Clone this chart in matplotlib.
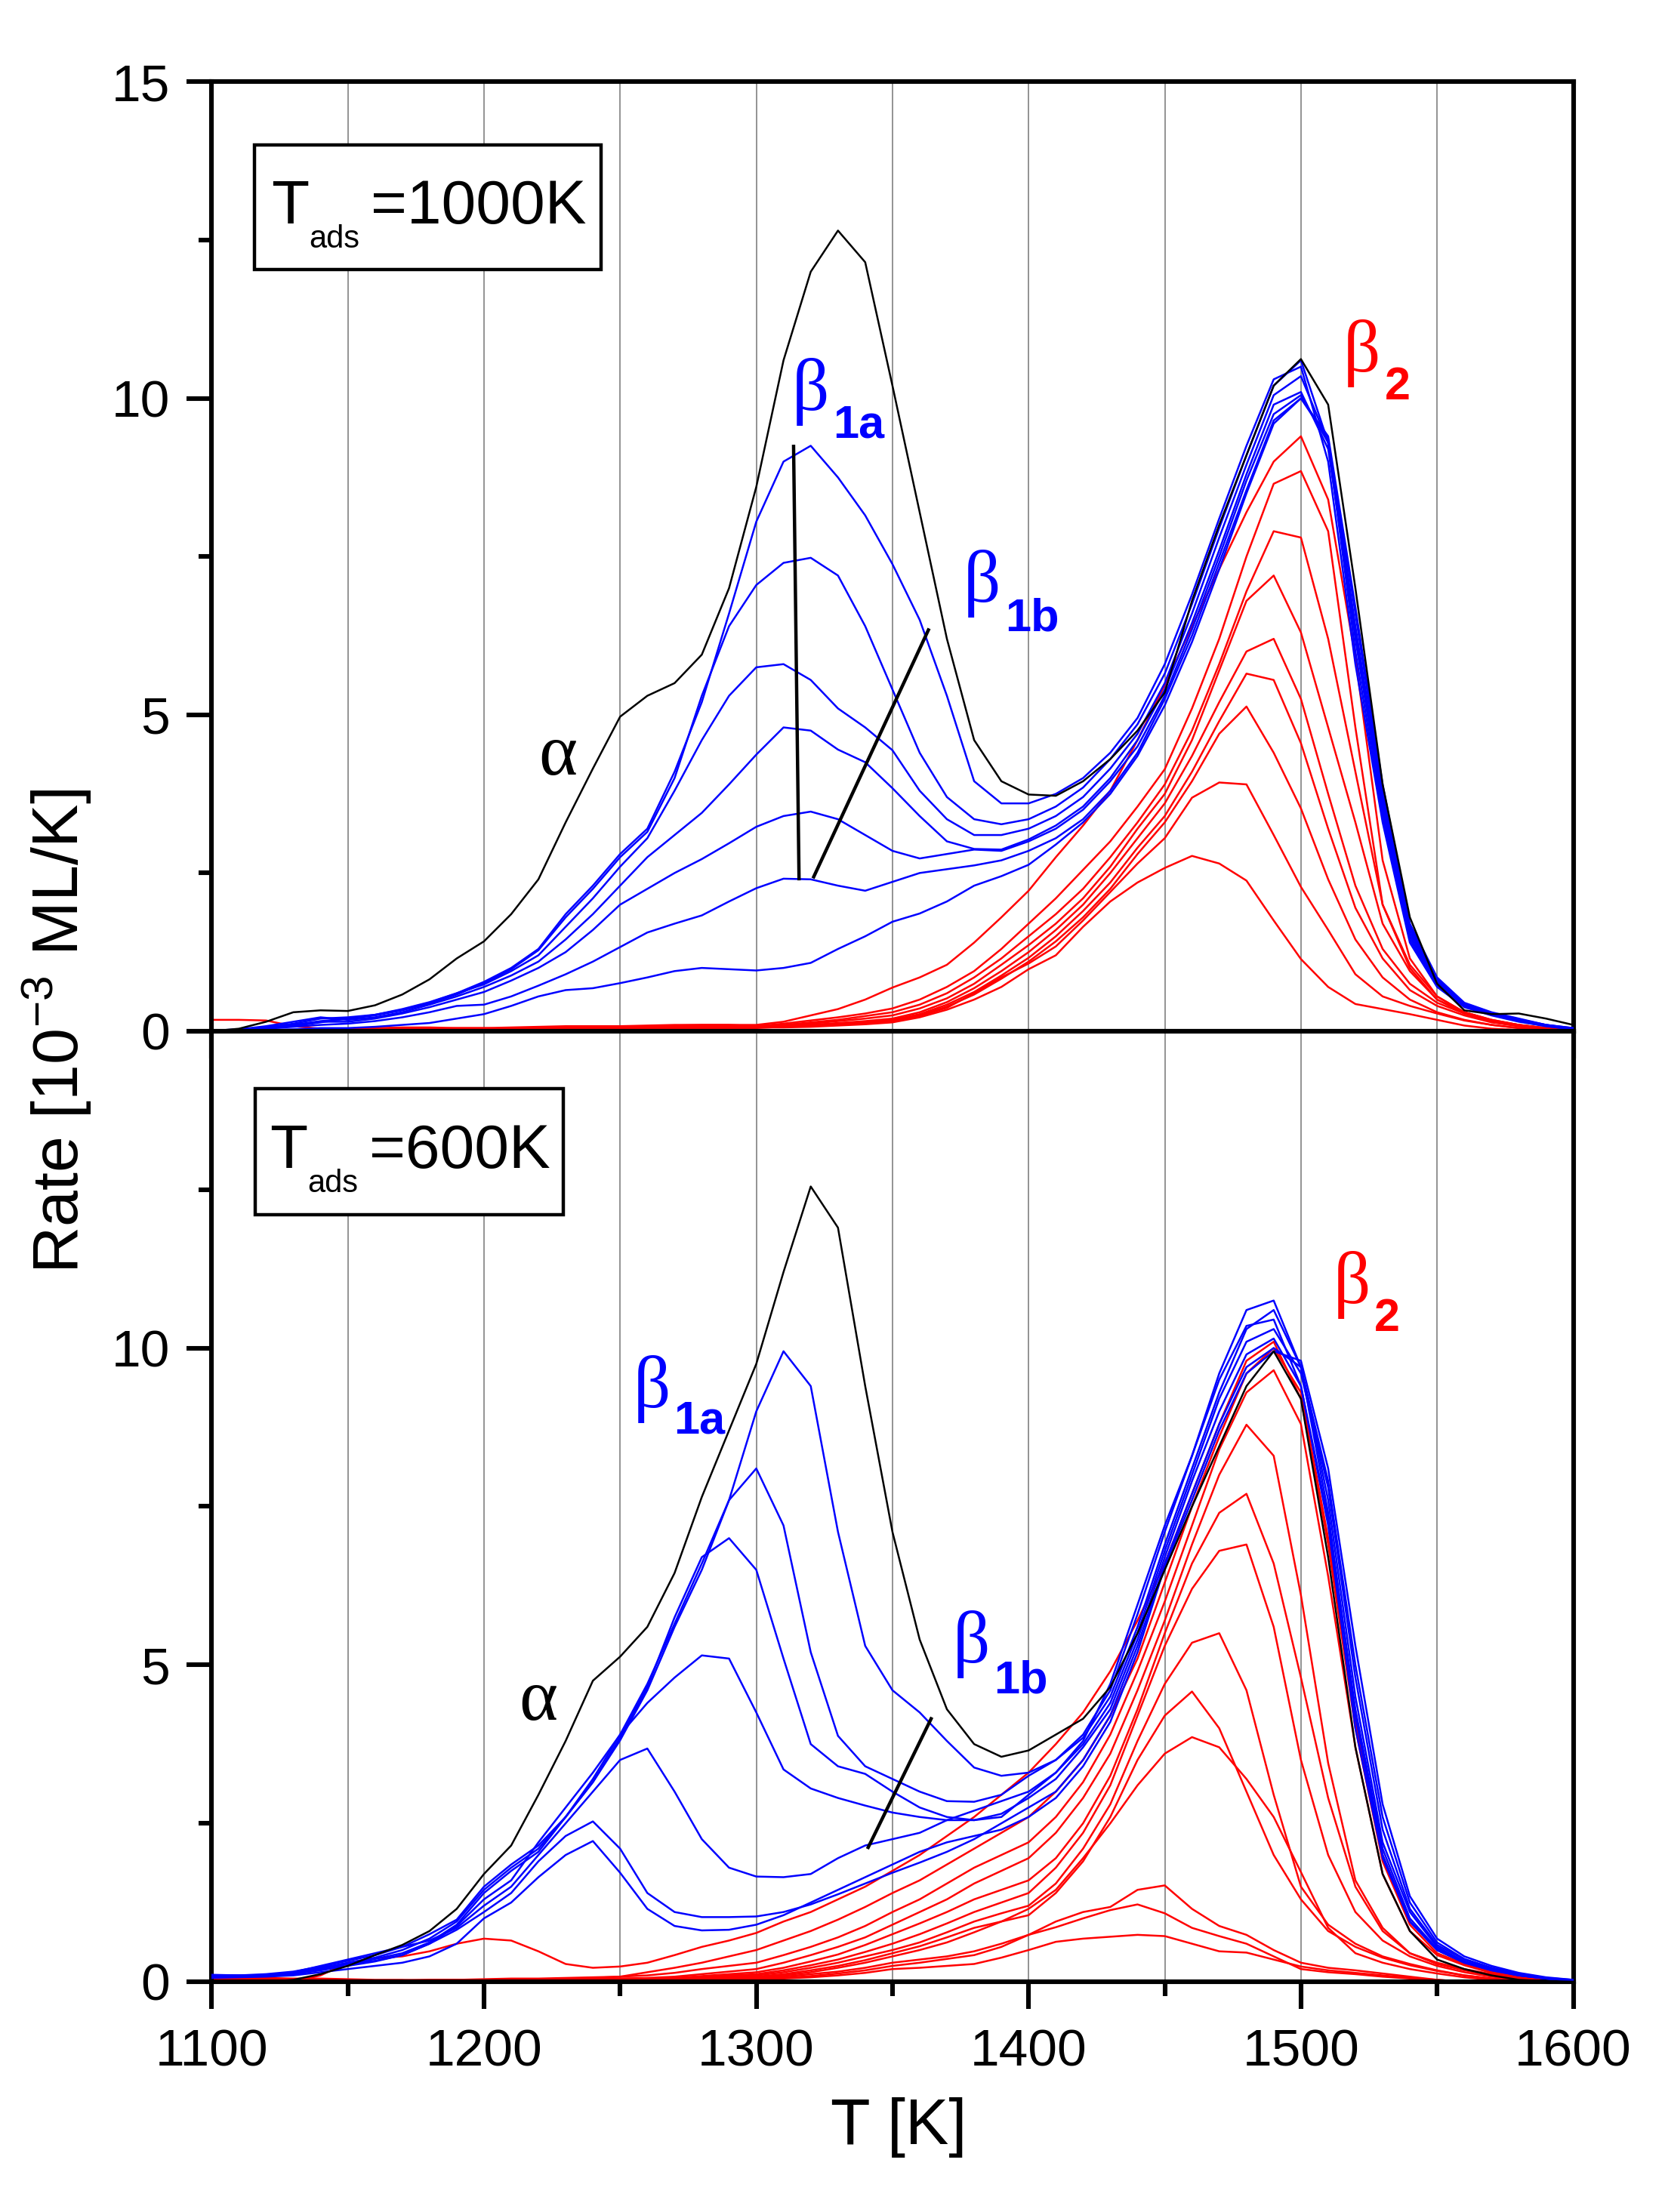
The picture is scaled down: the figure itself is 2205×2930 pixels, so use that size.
import numpy as np
import matplotlib
matplotlib.use("Agg")
from matplotlib import pyplot as plt
from matplotlib.patches import Rectangle

plt.rcParams['font.family'] = ['Liberation Sans', 'DejaVu Sans']

# temperature grid of the read-off values [K]
temps = list(range(1100, 1601, 10))

# ---- upper panel, T_ads = 1000 K ----
top_black = [0, 0.04, 0.15, 0.3, 0.33, 0.32, 0.41, 0.58, 0.82, 1.15,
             1.42, 1.85, 2.4, 3.3, 4.15, 4.97, 5.3, 5.5, 5.95, 7.0,
             8.6, 10.6, 12.0, 12.65, 12.15, 10.2, 8.2, 6.2, 4.6, 3.95,
             3.74, 3.72, 3.95, 4.3, 4.75, 5.35, 6.8, 8.0, 9.1, 10.2,
             10.62, 9.9, 7.0, 3.9, 1.8, 0.75, 0.33, 0.27, 0.28, 0.2, 0.1]

top_blue = [
    [0, 0.01, 0.04, 0.08, 0.14, 0.2, 0.26, 0.35, 0.46, 0.6,
     0.78, 1.0, 1.3, 1.85, 2.3, 2.8, 3.2, 4.1, 5.2, 6.6,
     8.05, 9.0, 9.25, 8.75, 8.15, 7.38, 6.5, 5.3, 3.95, 3.6,
     3.6, 3.75, 4.0, 4.4, 4.95, 5.8, 6.9, 8.1, 9.25, 10.3,
     10.5, 9.0, 5.8, 3.3, 1.4, 0.7, 0.38, 0.25, 0.15, 0.08, 0.03],
    [0, 0.02, 0.05, 0.1, 0.16, 0.2, 0.25, 0.33, 0.44, 0.58,
     0.76, 0.98, 1.28, 1.8, 2.25, 2.75, 3.15, 4.0, 5.3, 6.4,
     7.05, 7.4, 7.48, 7.2, 6.4, 5.4, 4.4, 3.7, 3.35, 3.27,
     3.35, 3.55, 3.85, 4.3, 4.85, 5.65, 6.75, 7.95, 9.1, 10.2,
     10.6, 9.3, 6.0, 3.4, 1.45, 0.72, 0.4, 0.26, 0.16, 0.08, 0.03],
    [0, 0.02, 0.06, 0.12, 0.2, 0.22, 0.26, 0.34, 0.45, 0.6,
     0.74, 0.95, 1.2, 1.65, 2.1, 2.6, 3.05, 3.8, 4.6, 5.3,
     5.75, 5.8, 5.55, 5.1, 4.8, 4.44, 3.8, 3.35, 3.1, 3.1,
     3.2, 3.4, 3.7, 4.15, 4.7, 5.5, 6.6, 7.8, 8.95, 10.05,
     10.35, 9.3, 6.2, 3.5, 1.5, 0.75, 0.41, 0.27, 0.17, 0.09, 0.04],
    [0, 0.03, 0.08, 0.15, 0.22, 0.18, 0.22, 0.3, 0.42, 0.55,
     0.7, 0.88, 1.1, 1.45, 1.85, 2.3, 2.75, 3.1, 3.45, 3.9,
     4.37, 4.8, 4.75, 4.45, 4.25, 3.84, 3.4, 3.0, 2.88, 2.87,
     3.03, 3.25, 3.55, 4.0, 4.6, 5.4, 6.45, 7.6, 8.8, 9.9,
     10.1, 9.2, 6.3, 3.6, 1.55, 0.78, 0.42, 0.28, 0.17, 0.09, 0.04],
    [0.01, 0.03, 0.06, 0.1, 0.15, 0.15, 0.2, 0.28, 0.38, 0.5,
     0.62, 0.8, 1.0, 1.25, 1.6, 2.0, 2.25, 2.5, 2.72, 2.97,
     3.23, 3.4, 3.47, 3.35, 3.1, 2.85, 2.73, 2.8, 2.87, 2.85,
     3.0, 3.2, 3.5, 3.95, 4.5, 5.3, 6.35, 7.5, 8.7, 9.75,
     10.05, 9.3, 6.4, 3.7, 1.6, 0.8, 0.43, 0.28, 0.18, 0.1, 0.04],
    [0, 0.02, 0.04, 0.07, 0.1, 0.12, 0.16, 0.22, 0.3, 0.4,
     0.42, 0.55, 0.72, 0.9, 1.1, 1.33, 1.56, 1.7, 1.83, 2.05,
     2.26, 2.41, 2.4, 2.3, 2.22, 2.36, 2.5, 2.56, 2.62, 2.7,
     2.85, 3.05, 3.35, 3.8, 4.4, 5.25, 6.25, 7.4, 8.55, 9.65,
     10.0, 9.35, 6.6, 3.8, 1.65, 0.82, 0.44, 0.29, 0.19, 0.1, 0.05],
    [0, 0.01, 0.02, 0.03, 0.05, 0.05, 0.07, 0.1, 0.13, 0.2,
     0.27, 0.4, 0.55, 0.65, 0.68, 0.76, 0.85, 0.95, 1.0, 0.98,
     0.96, 1.0, 1.08, 1.3, 1.5, 1.73, 1.86, 2.05, 2.3, 2.45,
     2.63, 2.95, 3.3, 3.75, 4.35, 5.15, 6.15, 7.3, 8.5, 9.6,
     10.0, 9.4, 6.7, 3.9, 1.7, 0.85, 0.45, 0.3, 0.2, 0.1, 0.05],
]

top_red = [
    [0, 0, 0, 0, 0.02, 0.03, 0.03, 0.03, 0.04, 0.05,
     0.05, 0.06, 0.07, 0.08, 0.08, 0.08, 0.09, 0.1, 0.1, 0.1,
     0.1, 0.15, 0.25, 0.35, 0.5, 0.69, 0.85, 1.05, 1.4, 1.8,
     2.22, 2.75, 3.25, 3.8, 4.6, 5.47, 6.4, 7.3, 8.2, 9.0,
     9.4, 8.4, 5.9, 2.7, 1.15, 0.55, 0.3, 0.18, 0.1, 0.05, 0.02],
    [0, 0, 0, 0, 0.01, 0.02, 0.02, 0.03, 0.03, 0.03,
     0.04, 0.05, 0.05, 0.06, 0.06, 0.07, 0.08, 0.09, 0.1, 0.1,
     0.08, 0.12, 0.17, 0.22, 0.28, 0.36, 0.5, 0.7, 0.95, 1.3,
     1.7, 2.1, 2.55, 3.0, 3.55, 4.14, 5.1, 6.2, 7.5, 8.65,
     8.85, 7.9, 4.8, 2.0, 1.0, 0.5, 0.28, 0.15, 0.08, 0.04, 0.01],
    [0, 0, 0, 0, 0.01, 0.01, 0.02, 0.02, 0.03, 0.03,
     0.03, 0.04, 0.04, 0.05, 0.05, 0.06, 0.06, 0.07, 0.08, 0.08,
     0.08, 0.1, 0.14, 0.18, 0.24, 0.3, 0.42, 0.6, 0.85, 1.15,
     1.5, 1.85, 2.25, 2.75, 3.3, 3.9, 4.75, 5.8, 6.95, 7.9,
     7.8, 6.2, 4.1, 2.0, 1.05, 0.55, 0.3, 0.18, 0.1, 0.05, 0.02],
    [0, 0, 0, 0, 0, 0.01, 0.02, 0.02, 0.02, 0.03,
     0.03, 0.03, 0.04, 0.04, 0.05, 0.05, 0.05, 0.05, 0.06, 0.06,
     0.06, 0.08, 0.12, 0.16, 0.2, 0.25, 0.36, 0.52, 0.75, 1.05,
     1.36, 1.7, 2.1, 2.6, 3.2, 3.75, 4.6, 5.7, 6.8, 7.2,
     6.3, 4.8, 3.3, 1.7, 0.95, 0.5, 0.3, 0.17, 0.1, 0.05, 0.02],
    [0, 0, 0, 0, 0, 0, 0.01, 0.01, 0.02, 0.02,
     0.02, 0.03, 0.03, 0.04, 0.04, 0.05, 0.05, 0.05, 0.05, 0.05,
     0.05, 0.07, 0.1, 0.13, 0.16, 0.2, 0.3, 0.46, 0.68, 0.95,
     1.25, 1.6, 2.0, 2.5, 3.05, 3.6, 4.35, 5.2, 6.0, 6.2,
     5.25, 3.75, 2.3, 1.3, 0.75, 0.45, 0.28, 0.16, 0.09, 0.04, 0.01],
    [0, 0, 0, 0, 0.01, 0.02, 0.03, 0.03, 0.02, 0.02,
     0.02, 0.02, 0.03, 0.03, 0.04, 0.04, 0.05, 0.06, 0.06, 0.07,
     0.07, 0.08, 0.1, 0.12, 0.15, 0.18, 0.27, 0.42, 0.62, 0.88,
     1.16, 1.5, 1.9, 2.35, 2.9, 3.4, 4.1, 4.9, 5.65, 5.55,
     4.55, 3.2, 1.95, 1.15, 0.65, 0.4, 0.25, 0.14, 0.08, 0.04, 0.01],
    [0, 0, 0, 0.01, 0.02, 0.04, 0.05, 0.06, 0.06, 0.05,
     0.05, 0.04, 0.04, 0.04, 0.05, 0.05, 0.06, 0.06, 0.06, 0.06,
     0.07, 0.08, 0.09, 0.11, 0.13, 0.16, 0.25, 0.39, 0.58, 0.83,
     1.1, 1.42, 1.8, 2.25, 2.8, 3.3, 3.95, 4.7, 5.13, 4.4,
     3.52, 2.4, 1.45, 0.85, 0.5, 0.3, 0.18, 0.1, 0.05, 0.02, 0],
    [0, 0, 0, 0, 0, 0.01, 0.01, 0.01, 0.02, 0.02,
     0.03, 0.03, 0.03, 0.03, 0.04, 0.05, 0.05, 0.06, 0.07, 0.07,
     0.07, 0.07, 0.08, 0.1, 0.12, 0.15, 0.24, 0.37, 0.6, 0.85,
     1.07, 1.34, 1.75, 2.2, 2.65, 3.05, 3.69, 3.93, 3.9, 3.1,
     2.28, 1.6, 0.9, 0.55, 0.4, 0.28, 0.17, 0.1, 0.05, 0.02, 0],
    [0.18, 0.18, 0.17, 0.08, 0.04, 0.02, 0.02, 0.02, 0.02, 0.02,
     0.02, 0.02, 0.03, 0.03, 0.03, 0.04, 0.04, 0.05, 0.05, 0.06,
     0.06, 0.06, 0.07, 0.09, 0.11, 0.14, 0.22, 0.34, 0.5, 0.7,
     0.98, 1.2, 1.65, 2.05, 2.35, 2.58, 2.77, 2.65, 2.38, 1.75,
     1.14, 0.7, 0.43, 0.35, 0.27, 0.18, 0.09, 0.04, 0.02, 0, 0],
]

# ---- lower panel, T_ads = 600 K ----
bot_black = [0, 0, 0, 0.03, 0.12, 0.25, 0.42, 0.58, 0.8, 1.15,
             1.7, 2.15, 2.95, 3.8, 4.75, 5.13, 5.6, 6.45, 7.65, 8.7,
             9.75, 11.2, 12.55, 11.9, 9.4, 7.1, 5.4, 4.3, 3.75, 3.55,
             3.65, 3.9, 4.15, 4.65, 5.5, 6.5, 7.5, 8.45, 9.4, 9.95,
             9.2, 6.7, 3.7, 1.7, 0.8, 0.35, 0.2, 0.1, 0.03, 0.01, 0]

bot_blue = [
    [0.1, 0.1, 0.1, 0.14, 0.2, 0.28, 0.36, 0.45, 0.62, 0.9,
     1.4, 1.75, 2.05, 2.6, 3.15, 3.81, 4.6, 5.6, 6.5, 7.6,
     9.0, 9.95, 9.4, 7.1, 5.3, 4.6, 4.25, 3.8, 3.38, 3.25,
     3.3, 3.5, 3.85, 4.5, 5.6, 6.9, 8.1, 9.3, 10.3, 10.6,
     9.7, 7.6, 4.5, 2.2, 1.1, 0.55, 0.32, 0.2, 0.1, 0.05, 0.02],
    [0.08, 0.09, 0.1, 0.15, 0.22, 0.3, 0.38, 0.5, 0.68, 0.95,
     1.45, 1.8, 2.1, 2.6, 3.2, 3.9, 4.7, 5.65, 6.6, 7.6,
     8.1, 7.2, 5.2, 3.88, 3.4, 3.2, 3.0, 2.85, 2.84, 2.95,
     3.25, 3.5, 3.9, 4.6, 5.8, 7.1, 8.3, 9.5, 10.35, 10.45,
     9.4, 7.2, 4.0, 1.95, 0.95, 0.5, 0.3, 0.18, 0.1, 0.05, 0.02],
    [0.1, 0.1, 0.12, 0.16, 0.24, 0.33, 0.42, 0.55, 0.75, 0.98,
     1.5, 1.85, 2.15, 2.6, 3.15, 3.85, 4.65, 5.75, 6.7, 7.0,
     6.5, 5.1, 3.75, 3.4, 3.28, 3.0, 2.75, 2.6, 2.55, 2.6,
     2.95, 3.3, 3.75, 4.4, 5.5, 6.8, 8.0, 9.2, 10.1, 10.3,
     9.6, 7.8, 4.8, 2.4, 1.15, 0.58, 0.35, 0.22, 0.12, 0.06, 0.02],
    [0.09, 0.09, 0.1, 0.13, 0.2, 0.28, 0.33, 0.42, 0.6, 0.88,
     1.3, 1.6, 2.2, 2.75, 3.3, 3.9, 4.4, 4.8, 5.15, 5.1,
     4.25, 3.35, 3.05, 2.9, 2.78, 2.67, 2.6, 2.55, 2.55, 2.65,
     2.9, 3.2, 3.7, 4.3, 5.4, 6.7, 7.9, 9.0, 9.9, 10.15,
     9.4, 7.3, 4.3, 2.1, 1.0, 0.52, 0.32, 0.2, 0.1, 0.05, 0.02],
    [0.11, 0.1, 0.1, 0.15, 0.25, 0.35, 0.45, 0.55, 0.65, 0.85,
     1.2, 1.5, 2.0, 2.5, 3.0, 3.5, 3.68, 3.0, 2.25, 1.8,
     1.66, 1.65, 1.7, 1.95, 2.15, 2.25, 2.35, 2.55, 2.7, 2.85,
     3.0, 3.3, 3.8, 4.7, 5.95, 7.2, 8.3, 9.6, 10.6, 10.75,
     9.7, 7.4, 4.2, 2.0, 0.95, 0.5, 0.3, 0.18, 0.1, 0.05, 0.02],
    [0.07, 0.08, 0.09, 0.12, 0.18, 0.25, 0.32, 0.42, 0.6, 0.82,
     1.1, 1.4, 1.9, 2.3, 2.53, 2.1, 1.4, 1.1, 1.02, 1.02,
     1.03, 1.1, 1.22, 1.38, 1.55, 1.72, 1.88, 2.05, 2.25, 2.5,
     2.75, 3.0, 3.5, 4.2, 5.3, 6.6, 7.7, 8.8, 9.7, 10.0,
     9.7, 7.9, 5.0, 2.6, 1.25, 0.62, 0.36, 0.22, 0.12, 0.06, 0.03],
    [0.06, 0.07, 0.08, 0.1, 0.15, 0.2, 0.25, 0.3, 0.4, 0.6,
     1.0, 1.25, 1.65, 2.0, 2.22, 1.72, 1.15, 0.88, 0.81, 0.82,
     0.9, 1.05, 1.25, 1.45, 1.65, 1.85, 2.05, 2.2, 2.3, 2.4,
     2.6, 2.9, 3.4, 4.1, 5.2, 6.55, 7.6, 8.7, 9.6, 9.95,
     9.8, 8.1, 5.3, 2.8, 1.35, 0.68, 0.4, 0.25, 0.14, 0.07, 0.03],
]

bot_red = [
    [0, 0, 0, 0, 0.1, 0.3, 0.37, 0.4, 0.48, 0.6,
     0.68, 0.65, 0.48, 0.28, 0.22, 0.24, 0.3, 0.42, 0.55, 0.65,
     0.77, 0.95, 1.1, 1.3, 1.5, 1.75, 2.0, 2.3, 2.6, 2.95,
     3.3, 3.75, 4.25, 4.9, 5.7, 6.6, 7.7, 8.8, 9.8, 10.1,
     9.2, 6.9, 4.0, 1.9, 0.9, 0.45, 0.28, 0.15, 0.08, 0.03, 0.01],
    [0.05, 0.05, 0.05, 0.04, 0.03, 0.02, 0.02, 0.02, 0.03, 0.03,
     0.03, 0.04, 0.04, 0.05, 0.06, 0.08, 0.15, 0.22, 0.3, 0.4,
     0.5, 0.65, 0.8, 0.98, 1.18, 1.4, 1.6, 1.85, 2.1, 2.35,
     2.6, 3.0, 3.5, 4.2, 5.1, 6.3, 7.5, 8.6, 9.6, 10.0,
     9.3, 7.0, 4.1, 2.0, 0.95, 0.5, 0.3, 0.16, 0.08, 0.04, 0.01],
    [0, 0, 0, 0, 0.01, 0.01, 0.02, 0.02, 0.03, 0.03,
     0.04, 0.05, 0.05, 0.06, 0.07, 0.08, 0.1, 0.14, 0.2, 0.25,
     0.3, 0.42, 0.55, 0.7, 0.88, 1.1, 1.3, 1.55, 1.8, 2.0,
     2.2, 2.6, 3.15, 3.9, 4.9, 6.0, 7.2, 8.4, 9.3, 9.65,
     8.8, 6.4, 3.7, 1.7, 0.8, 0.42, 0.26, 0.14, 0.07, 0.03, 0.01],
    [0, 0, 0, 0, 0, 0.01, 0.01, 0.02, 0.02, 0.03,
     0.03, 0.03, 0.04, 0.04, 0.05, 0.05, 0.06, 0.08, 0.12, 0.16,
     0.2, 0.3, 0.42, 0.55, 0.7, 0.9, 1.1, 1.3, 1.55, 1.75,
     1.95, 2.35, 2.9, 3.6, 4.6, 5.7, 6.9, 8.0, 8.79, 8.3,
     6.1, 3.45, 1.6, 0.85, 0.45, 0.3, 0.2, 0.12, 0.06, 0.02, 0],
    [0, 0, 0, 0, 0, 0, 0.01, 0.01, 0.02, 0.02,
     0.02, 0.03, 0.03, 0.04, 0.04, 0.05, 0.05, 0.06, 0.09, 0.12,
     0.15, 0.22, 0.32, 0.43, 0.58, 0.75, 0.92, 1.1, 1.3, 1.45,
     1.6, 1.95, 2.5, 3.25, 4.3, 5.5, 6.6, 7.4, 7.7, 6.6,
     4.8, 2.9, 1.5, 0.8, 0.45, 0.28, 0.18, 0.1, 0.05, 0.02, 0],
    [0, 0, 0, 0, 0, 0, 0, 0.01, 0.01, 0.02,
     0.02, 0.02, 0.03, 0.03, 0.04, 0.04, 0.05, 0.05, 0.07, 0.1,
     0.12, 0.18, 0.26, 0.35, 0.47, 0.6, 0.75, 0.92, 1.1, 1.25,
     1.4, 1.8, 2.35, 3.1, 4.2, 5.3, 6.2, 6.8, 6.9, 5.6,
     3.5, 2.0, 1.1, 0.65, 0.4, 0.25, 0.15, 0.08, 0.04, 0.01, 0],
    [0, 0, 0, 0, 0, 0, 0, 0, 0.01, 0.01,
     0.02, 0.02, 0.02, 0.03, 0.03, 0.04, 0.04, 0.05, 0.06, 0.08,
     0.1, 0.15, 0.22, 0.3, 0.4, 0.5, 0.62, 0.78, 0.95, 1.08,
     1.2, 1.55, 2.1, 2.8, 3.8, 4.7, 5.35, 5.5, 4.6, 2.95,
     1.5, 0.9, 0.6, 0.4, 0.28, 0.18, 0.1, 0.05, 0.02, 0, 0],
    [0, 0, 0, 0, 0, 0, 0, 0, 0, 0.01,
     0.01, 0.02, 0.02, 0.02, 0.03, 0.03, 0.04, 0.04, 0.05, 0.06,
     0.08, 0.12, 0.18, 0.25, 0.34, 0.45, 0.56, 0.7, 0.85, 0.95,
     1.05, 1.4, 1.9, 2.6, 3.5, 4.2, 4.58, 4.0, 3.0, 2.0,
     1.3, 0.8, 0.55, 0.38, 0.26, 0.17, 0.1, 0.05, 0.02, 0, 0],
    [0, 0, 0, 0, 0, 0, 0, 0, 0, 0,
     0.01, 0.01, 0.02, 0.02, 0.02, 0.03, 0.03, 0.04, 0.05, 0.05,
     0.06, 0.1, 0.15, 0.22, 0.3, 0.4, 0.5, 0.62, 0.78, 0.95,
     1.15, 1.45, 1.95, 2.5, 3.1, 3.6, 3.86, 3.7, 3.2, 2.6,
     1.73, 0.85, 0.45, 0.3, 0.2, 0.13, 0.07, 0.03, 0, 0, 0],
    [0.06, 0.06, 0.06, 0.05, 0.05, 0.04, 0.03, 0.03, 0.02, 0.02,
     0.02, 0.02, 0.02, 0.02, 0.03, 0.03, 0.03, 0.04, 0.04, 0.05,
     0.05, 0.08, 0.12, 0.16, 0.22, 0.3, 0.35, 0.4, 0.48, 0.6,
     0.74, 0.95, 1.1, 1.18, 1.45, 1.52, 1.15, 0.88, 0.74, 0.5,
     0.3, 0.22, 0.18, 0.13, 0.08, 0.03, 0, 0, 0, 0, 0],
    [0, 0, 0, 0, 0, 0, 0, 0, 0, 0.01,
     0.01, 0.01, 0.01, 0.02, 0.02, 0.02, 0.02, 0.03, 0.03, 0.03,
     0.04, 0.06, 0.09, 0.13, 0.18, 0.25, 0.3, 0.36, 0.42, 0.55,
     0.74, 0.86, 1.0, 1.13, 1.22, 1.08, 0.85, 0.72, 0.6, 0.4,
     0.2, 0.15, 0.12, 0.08, 0.05, 0.02, 0, 0, 0, 0, 0],
    [0, 0, 0, 0, 0, 0, 0, 0, 0, 0,
     0, 0.01, 0.01, 0.01, 0.01, 0.02, 0.02, 0.02, 0.02, 0.03,
     0.03, 0.05, 0.07, 0.1, 0.14, 0.2, 0.22, 0.25, 0.28, 0.38,
     0.5, 0.63, 0.68, 0.71, 0.74, 0.72, 0.6, 0.48, 0.46, 0.35,
     0.24, 0.18, 0.14, 0.1, 0.06, 0.03, 0, 0, 0, 0, 0],
]

BLUE = '#0000ff'
RED = '#ff0000'
LW = 0.9

fig = plt.figure(figsize=(11.025, 14.65), dpi=200)
ax1 = fig.add_axes([0.1271, 0.5338, 0.8178, 0.4292])
ax2 = fig.add_axes([0.1271, 0.1041, 0.8178, 0.4297])


def style_axis(ax):
    ax.set_xlim(1100, 1600)
    ax.set_ylim(0, 15)
    ax.set_xticks(np.arange(1100, 1601, 100))
    ax.set_xticks(np.arange(1150, 1600, 100), minor=True)
    ax.set_yticks([0, 5, 10, 15])
    ax.set_yticks([2.5, 7.5, 12.5], minor=True)
    ax.grid(axis='x', which='both', color='#808080', lw=0.6)
    ax.set_axisbelow(True)
    for s in ax.spines.values():
        s.set_linewidth(2.2)
    ax.tick_params(axis='x', which='major', direction='out', length=13, width=2.2,
                   labelsize=25, pad=9, top=False)
    ax.tick_params(axis='x', which='minor', direction='out', length=7, width=2.2, top=False)
    ax.tick_params(axis='y', which='major', direction='out', length=12, width=2.2,
                   labelsize=25, pad=8, right=False)
    ax.tick_params(axis='y', which='minor', direction='out', length=6, width=2.2, right=False)


for ax, reds, blues, black in [(ax1, top_red, top_blue, top_black),
                               (ax2, bot_red, bot_blue, bot_black)]:
    style_axis(ax)
    for r in reds:
        ax.plot(temps, r, color=RED, lw=LW, zorder=2)
    for b in blues:
        ax.plot(temps, b, color=BLUE, lw=LW, zorder=3)
    ax.plot(temps, black, color='black', lw=LW, zorder=4)

ax1.tick_params(axis='x', labelbottom=False)
ax2.set_yticklabels(['0', '5', '10', ''])

# peak labels
greek = dict(family=['Liberation Serif', 'DejaVu Serif'], fontsize=35,
             ha='center', va='center', zorder=6)
sub = dict(fontsize=22, fontweight='bold', ha='center', va='center', zorder=6)

ax1.text(1319.8, 10.1, '\u03b2', color=BLUE, **greek)
ax1.text(1337.5, 9.57, '1a', color=BLUE, **sub)
ax1.text(1383, 7.07, '\u03b2', color=BLUE, **greek)
ax1.text(1401.3, 6.51, '1b', color=BLUE, **sub)
ax1.text(1522.4, 10.71, '\u03b2', color=RED, **greek)
ax1.text(1535.5, 10.17, '2', color=RED, **sub)
ax1.text(1227, 4.33, '\u03b1', color='black', **greek)

ax2.text(1261.6, 9.35, '\u03b2', color=BLUE, **greek)
ax2.text(1279, 8.84, '1a', color=BLUE, **sub)
ax2.text(1379, 5.33, '\u03b2', color=BLUE, **greek)
ax2.text(1397, 4.74, '1b', color=BLUE, **sub)
ax2.text(1518.8, 11.0, '\u03b2', color=RED, **greek)
ax2.text(1531.7, 10.45, '2', color=RED, **sub)
ax2.text(1220, 4.41, '\u03b1', color='black', **greek)

# guide lines between the peaks
ax1.plot([1313.7, 1315.7], [9.24, 2.41], color='black', lw=1.6, zorder=5)
ax1.plot([1321.1, 1363.2], [2.44, 6.34], color='black', lw=1.6, zorder=5)
ax2.plot([1341.1, 1364.2], [2.12, 4.15], color='black', lw=1.6, zorder=5)

# adsorption temperature boxes
for ax, x0, y0, x1, y1, tx, base, sub_base, txt in [
        (ax1, 1115.7, 12.03, 1243.0, 14.0, 1121.9, 12.76, 12.38, '=1000K'),
        (ax2, 1116.0, 12.1, 1229.2, 14.1, 1121.3, 12.84, 12.46, '=600K')]:
    ax.add_patch(Rectangle((x0, y0), x1 - x0, y1 - y0, facecolor='white',
                           edgecolor='black', lw=1.6, zorder=6))
    ax.text(tx, base, 'T', fontsize=29.5, va='baseline', ha='left', zorder=7)
    ax.text(tx + 14.0, sub_base, 'ads', fontsize=15, va='baseline', ha='left', zorder=7)
    ax.text(tx + 36.6, base, txt, fontsize=29.5, va='baseline', ha='left', zorder=7)

fig.text(0.0345, 0.534, 'Rate [10$^{\\mathregular{-3}}$ ML/K]', rotation=90,
         fontsize=31, ha='center', va='center')
fig.text(0.5397, 0.0382, 'T [K]', fontsize=31, ha='center', va='center')

fig.savefig('out.png', dpi=200, facecolor='white')
